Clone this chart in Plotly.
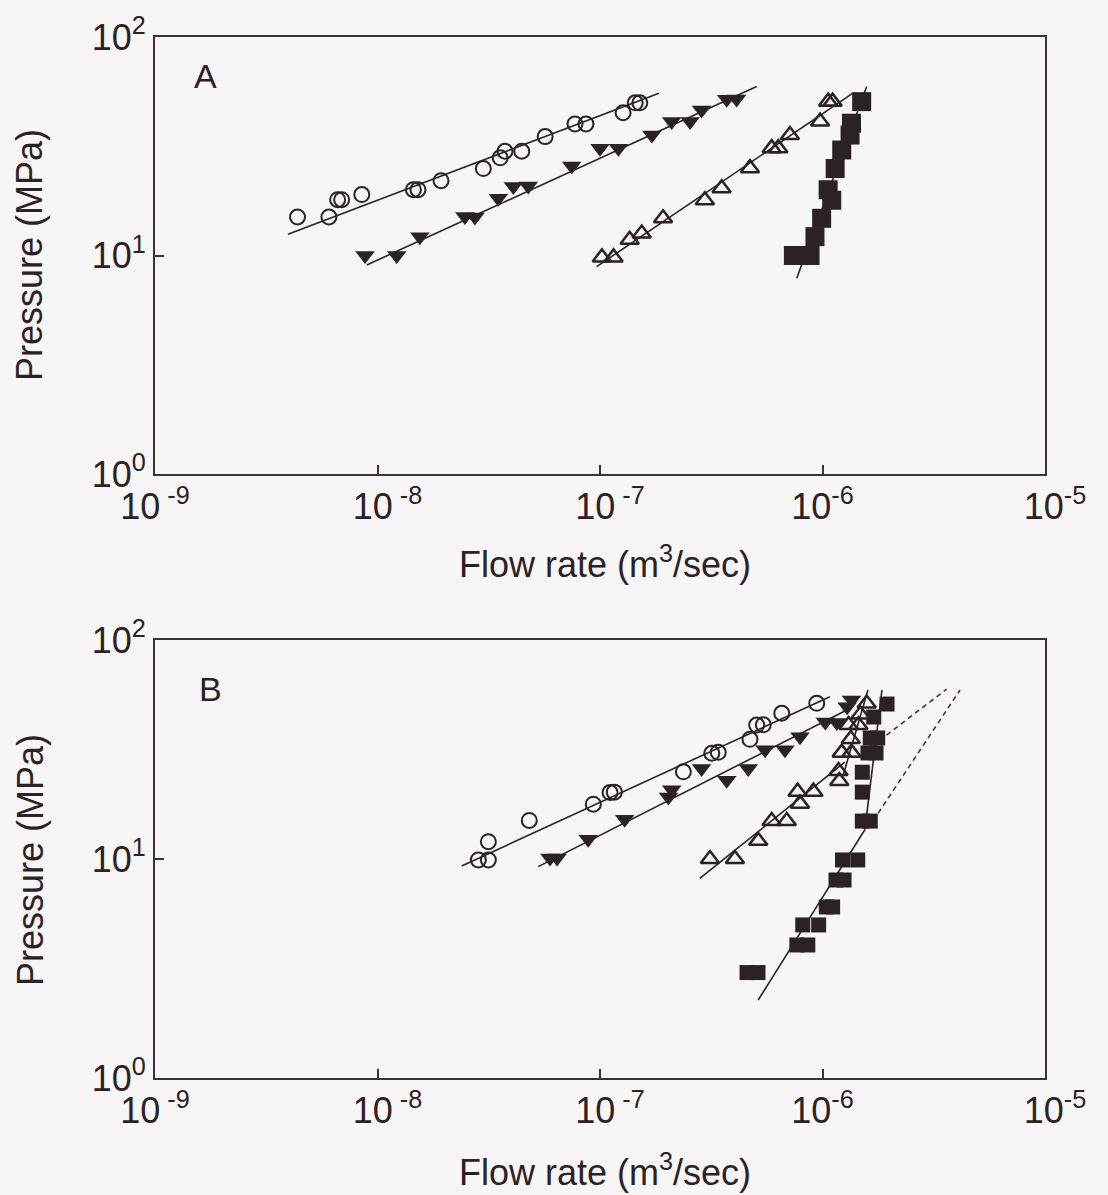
import plotly.graph_objects as go

# ---------------- Panel A data ----------------
A_circle_x = [4.37e-9, 6.05e-9, 6.62e-9, 6.9e-9, 8.5e-9, 1.45e-8, 1.52e-8, 1.93e-8, 2.99e-8,
              3.56e-8, 3.74e-8, 4.45e-8, 5.67e-8, 7.72e-8, 8.65e-8, 1.27e-7, 1.44e-7, 1.51e-7]
A_circle_y = [15, 15, 18, 18, 19, 20, 20, 22, 25, 28, 30, 30, 35, 40, 40, 45, 50, 50]

A_tridown_x = [8.79e-9, 1.22e-8, 1.55e-8, 2.47e-8, 2.74e-8, 3.49e-8, 4.08e-8, 4.76e-8, 7.46e-8,
               1.0e-7, 1.21e-7, 1.71e-7, 2.1e-7, 2.54e-7, 2.86e-7, 3.71e-7, 4.11e-7]
A_tridown_y = [10, 10, 12.2, 15.1, 15, 18.3, 20.7, 20.8, 25.7, 31, 31, 35.6, 41, 41, 46.3, 51.9, 52]

A_triup_x = [1.02e-7, 1.15e-7, 1.36e-7, 1.54e-7, 1.92e-7, 2.96e-7, 3.52e-7, 4.72e-7, 5.91e-7,
             6.33e-7, 7.14e-7, 9.75e-7, 1.06e-6, 1.11e-6]
A_triup_y = [9.8, 9.8, 11.8, 12.6, 14.8, 17.9, 20.3, 25.1, 31, 31, 35.6, 41, 50.6, 50.6]

A_square_x = [7.40e-7, 8.79e-7, 9.25e-7, 9.91e-7, 1.10e-6, 1.06e-6, 1.14e-6, 1.22e-6, 1.33e-6,
              1.35e-6, 1.50e-6]
A_square_y = [10, 10, 12.2, 14.8, 17.9, 20, 25, 30.4, 35.6, 40.3, 50.6]

A_fit_circle_x = [3.96e-9, 1.84e-7]
A_fit_circle_y = [12.5, 55.3]
A_fit_tridown_x = [8.95e-9, 5.06e-7]
A_fit_tridown_y = [9.05, 59.3]
A_fit_triup_x = [9.66e-8, 1.37e-6]
A_fit_triup_y = [8.89, 55.3]
A_fit_square_x = [7.66e-7, 1.58e-6]
A_fit_square_y = [7.87, 59.4]

# ---------------- Panel B data ----------------
B_circle_x = [2.84e-8, 3.15e-8, 3.15e-8, 4.81e-8, 9.33e-8, 1.11e-7, 1.16e-7, 2.37e-7, 3.18e-7,
              3.40e-7, 4.72e-7, 5.06e-7, 5.42e-7, 6.56e-7, 9.42e-7]
B_circle_y = [9.9, 9.9, 12, 15, 17.8, 20.1, 20.2, 25, 30.4, 30.7, 35.2, 40.9, 41, 46.3, 51.4]

B_tridown_x = [5.96e-8, 6.41e-8, 8.85e-8, 1.29e-7, 2.03e-7, 2.10e-7, 2.86e-7, 3.71e-7, 4.64e-7,
               5.52e-7, 6.78e-7, 7.92e-7, 1.03e-6, 1.16e-6, 1.29e-6, 1.35e-6]
B_tridown_y = [10.1, 10.1, 12.3, 15.2, 19.2, 20.7, 25.9, 22.9, 25.9, 31.5, 31.5, 36.2, 42.2, 42,
               49.6, 53.2]

B_triup_x = [3.12e-7, 4.04e-7, 5.14e-7, 5.91e-7, 6.91e-7, 7.92e-7, 7.73e-7, 9.1e-7, 1.19e-6,
             1.18e-6, 1.22e-6, 1.35e-6, 1.34e-6, 1.31e-6, 1.45e-6, 1.48e-6, 1.58e-6]
B_triup_y = [10, 10, 12.1, 14.9, 14.9, 17.9, 20.3, 20.3, 22.7, 25.2, 30.6, 30.6, 35.3, 40.9,
             40.9, 45.7, 51.3]

B_square_x = [4.58e-7, 5.13e-7, 7.67e-7, 8.59e-7, 8.15e-7, 9.61e-7, 1.04e-6, 1.11e-6, 1.15e-6,
              1.25e-6, 1.23e-6, 1.44e-6, 1.51e-6, 1.64e-6, 1.51e-6, 1.51e-6, 1.60e-6, 1.74e-6,
              1.64e-6, 1.77e-6, 1.70e-6, 1.95e-6]
B_square_y = [3.03, 3.03, 4.05, 4.05, 5.0, 5.0, 6.04, 6.04, 8.02, 8.02, 9.9, 9.9, 14.9, 14.9,
              20.2, 24.9, 30.5, 30.5, 35.7, 35.7, 44.5, 51]

B_fit_circle_x = [2.39e-8, 1.08e-6]
B_fit_circle_y = [9.29, 55.1]
B_fit_tridown_x = [5.28e-8, 1.26e-6]
B_fit_tridown_y = [9.23, 47.4]
B_fit_triup_x = [2.81e-7, 1.26e-6, None, 1.24e-6, 1.60e-6]
B_fit_triup_y = [8.16, 27.7, None, 24.2, 59.1]
B_fit_square_x = [5.14e-7, 1.55e-6, 1.85e-6]
B_fit_square_y = [2.27, 13.6, 59.1]
B_dash_x = [1.94e-6, 3.61e-6, None, 1.78e-6, 4.15e-6]
B_dash_y = [36.8, 59.6, None, 16.2, 59.1]

# ---------------- ticks / labels ----------------
x_tickvals = [1e-9, 1e-8, 1e-7, 1e-6, 1e-5]
x_ticktext = ["10<sup> -9</sup>", "\u00a0\u00a010<sup> -8</sup>",
              "\u00a0\u00a010<sup> -7</sup>", "10<sup>-6</sup>", "\u00a0\u00a010<sup>-5</sup>"]
y_tickvals = [1, 10, 100]
y_ticktext = ["10<sup>0</sup>", "10<sup>1</sup>", "10<sup>2</sup>"]
x_title = "Flow rate (m<sup>3</sup>/sec)"
y_title = "Pressure (MPa)"
panel_labels = ["A", "B"]

INK = "#2b2226"
AXC = "#3d3337"
BG = "#f7f5f5"
FONT = "Liberation Sans, Arial, sans-serif"
W, H = 1108, 1195

fig = go.Figure()

def add_panel(xa, ya, circ, tdn, tup, sq, fits, sqsize, dash=None):
    xr, yr = "x" + xa, "y" + ya
    for fx, fy in fits:
        fig.add_trace(go.Scatter(x=fx, y=fy, mode="lines", xaxis=xr, yaxis=yr,
                                 line=dict(color=INK, width=1.6), showlegend=False,
                                 connectgaps=False, hoverinfo="skip"))
    if dash is not None:
        fig.add_trace(go.Scatter(x=dash[0], y=dash[1], mode="lines", xaxis=xr, yaxis=yr,
                                 line=dict(color="#4a3338", width=1.6, dash="5px,4px"),
                                 showlegend=False, connectgaps=False))
    fig.add_trace(go.Scatter(x=circ[0], y=circ[1], mode="markers", xaxis=xr, yaxis=yr,
                             marker=dict(symbol="circle-open", size=15, color=INK,
                                         line=dict(width=2, color=INK)), showlegend=False))
    fig.add_trace(go.Scatter(x=tdn[0], y=tdn[1], mode="markers", xaxis=xr, yaxis=yr,
                             marker=dict(symbol="triangle-down", size=17, color=INK,
                                         line=dict(width=0)), showlegend=False))
    fig.add_trace(go.Scatter(x=tup[0], y=tup[1], mode="markers", xaxis=xr, yaxis=yr,
                             marker=dict(symbol="triangle-up-open", size=16, color=INK,
                                         line=dict(width=2.5, color=INK)), showlegend=False))
    fig.add_trace(go.Scatter(x=sq[0], y=sq[1], mode="markers", xaxis=xr, yaxis=yr,
                             marker=dict(symbol="square", size=sqsize, color=INK,
                                         line=dict(width=0)), showlegend=False))

add_panel("", "", (A_circle_x, A_circle_y), (A_tridown_x, A_tridown_y),
          (A_triup_x, A_triup_y), (A_square_x, A_square_y),
          [(A_fit_circle_x, A_fit_circle_y), (A_fit_tridown_x, A_fit_tridown_y),
           (A_fit_triup_x, A_fit_triup_y), (A_fit_square_x, A_fit_square_y)], 19)
add_panel("2", "2", (B_circle_x, B_circle_y), (B_tridown_x, B_tridown_y),
          (B_triup_x, B_triup_y), (B_square_x, B_square_y),
          [(B_fit_circle_x, B_fit_circle_y), (B_fit_tridown_x, B_fit_tridown_y),
           (B_fit_triup_x, B_fit_triup_y), (B_fit_square_x, B_fit_square_y)], 15,
          dash=(B_dash_x, B_dash_y))

xdom = [155 / W, 1045 / W]
domA = [1 - 474 / H, 1 - 37 / H]
domB = [1 - 1078 / H, 1 - 640 / H]

axis_common = dict(showline=True, linecolor=AXC, linewidth=2, mirror=True, ticks="inside",
                   ticklen=9, tickwidth=1.5, tickcolor=AXC, showgrid=False, zeroline=False,
                   automargin=False,
                   tickfont=dict(family=FONT, size=36, color=INK))

fig.update_layout(
    width=W, height=H,
    autosize=False,
    margin=dict(l=0, r=0, t=0, b=0, pad=0, autoexpand=False),
    paper_bgcolor=BG, plot_bgcolor=BG,
    showlegend=False,
    xaxis=dict(type="log", range=[-9, -5], domain=xdom, anchor="y", ticklabelstandoff=0,
               tickvals=x_tickvals, ticktext=x_ticktext, **axis_common),
    yaxis=dict(type="log", range=[0, 2], domain=domA, anchor="x",
               tickvals=y_tickvals, ticktext=y_ticktext, **axis_common),
    xaxis2=dict(type="log", range=[-9, -5], domain=xdom, anchor="y2", ticklabelstandoff=0,
                tickvals=x_tickvals, ticktext=x_ticktext, **axis_common),
    yaxis2=dict(type="log", range=[0, 2], domain=domB, anchor="x2",
                tickvals=y_tickvals, ticktext=y_ticktext, **axis_common),
)

ann = []
for lab, (cx, cy) in zip(panel_labels, [(205, 76), (211, 689)]):
    ann.append(dict(text=lab, x=cx / W, y=1 - cy / H, xref="paper", yref="paper",
                    xanchor="center", yanchor="middle",
                    showarrow=False, font=dict(family=FONT, size=34, color=INK)))
for cy in [562, 1170]:
    ann.append(dict(text=x_title, x=605 / W, y=1 - cy / H, xref="paper", yref="paper",
                    xanchor="center", yanchor="middle",
                    showarrow=False, font=dict(family=FONT, size=36, color=INK)))
for cy in [255, 860]:
    ann.append(dict(text=y_title, x=30 / W, y=1 - cy / H, xref="paper", yref="paper",
                    xanchor="center", yanchor="middle",
                    showarrow=False, textangle=-90, font=dict(family=FONT, size=36, color=INK)))
fig.update_layout(annotations=ann)

fig.write_html("out.html", config={"responsive": False, "displayModeBar": False},
               post_script="document.body.style.margin='0';document.body.style.background='" + BG + "';")
